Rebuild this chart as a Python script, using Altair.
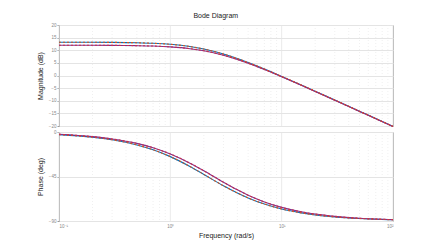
import altair as alt
import pandas as pd

freq = [0.1, 0.2, 0.3, 0.5, 0.7, 1, 1.5, 2, 3, 4, 5, 7, 10, 15, 20, 30, 50, 70, 100]
# System 1 (blue solid / orange dashed)
mag1 = [13.19, 13.16, 13.12, 12.97, 12.76, 12.35, 11.48, 10.49, 8.51, 6.71, 5.13, 2.56, -0.35, -3.76, -6.22, -9.72, -14.14, -17.06, -20.15]
phase1 = [-2.7, -5.3, -7.9, -13.1, -18.0, -24.9, -34.9, -42.9, -54.4, -61.7, -66.7, -72.9, -77.9, -81.8, -83.9, -85.9, -87.5, -88.2, -88.8]
# System 2 (purple solid / red dashed)
mag2 = [11.99, 11.97, 11.94, 11.82, 11.66, 11.33, 10.62, 9.78, 8.02, 6.36, 4.87, 2.38, -0.47, -3.85, -6.30, -9.79, -14.21, -17.12, -20.22]
phase2 = [-2.3, -4.7, -7.0, -11.5, -15.9, -22.2, -31.5, -39.2, -50.8, -58.5, -63.9, -70.7, -76.2, -80.7, -83.0, -85.3, -87.2, -88.0, -88.6]

series = ["s1", "s1b", "s2", "s2b"]
colors = ["#0072BD", "#D95319", "#7E2F8E", "#C8304A"]

major_x = [0.1, 1, 10, 100]
minor_x = [0.2, 0.3, 0.4, 0.5, 0.6, 0.7, 0.8, 0.9,
           2, 3, 4, 5, 6, 7, 8, 9,
           20, 30, 40, 50, 60, 70, 80, 90]
mag_ticks = [-20, -15, -10, -5, 0, 5, 10, 15, 20]
phase_ticks = [-90, -45, 0]

rows = []
for f, m1, p1, m2, p2 in zip(freq, mag1, phase1, mag2, phase2):
    rows.append({"f": f, "s": "s1", "mag": m1, "ph": p1})
    rows.append({"f": f, "s": "s1b", "mag": m1, "ph": p1})
    rows.append({"f": f, "s": "s2", "mag": m2, "ph": p2})
    rows.append({"f": f, "s": "s2b", "mag": m2, "ph": p2})
df = pd.DataFrame(rows)
minor_df = pd.DataFrame({"f": minor_x})
major_df = pd.DataFrame({"f": major_x})

FONT = "Liberation Sans"
W = 334
xscale = alt.Scale(type="log", domain=[0.1, 100], nice=False)
cscale = alt.Scale(domain=series, range=colors)
label_expr = ("datum.value == 0.1 ? '10⁻¹' : datum.value == 1 ? '10⁰' : "
              "datum.value == 10 ? '10¹' : '10²'")


def panel(field, ydomain, yticks, ytitle, height, bottom):
    yscale = alt.Scale(domain=ydomain, nice=False)
    if bottom:
        xaxis = alt.Axis(values=major_x, labelExpr=label_expr, title="Frequency  (rad/s)",
                         grid=False, domain=False, ticks=False,
                         labelFontSize=4.5, labelFont=FONT, labelColor="#888", labelPadding=2,
                         titleFontSize=7, titleFont=FONT, titleFontWeight="normal",
                         titlePadding=4, titleColor="#222")
    else:
        xaxis = None
    minor = alt.Chart(minor_df).mark_rule(color="#e6e6e6", strokeDash=[1, 2], strokeWidth=0.6).encode(
        x=alt.X("f:Q", scale=xscale, axis=xaxis)
    )
    major = alt.Chart(major_df).mark_rule(color="#e4e4e4", strokeWidth=0.8).encode(
        x=alt.X("f:Q", scale=xscale, axis=xaxis)
    )
    base = alt.Chart(df).encode(
        x=alt.X("f:Q", scale=xscale, axis=xaxis),
        y=alt.Y(f"{field}:Q", scale=yscale,
                axis=alt.Axis(values=yticks, title=ytitle, grid=True, gridColor="#e4e4e4",
                              domain=False, tickSize=2, tickColor="#999",
                              labelFontSize=4.5, labelFont=FONT, labelColor="#888", labelPadding=1,
                              titleFontSize=7, titleFont=FONT, titleFontWeight="normal",
                              titlePadding=5, titleColor="#222")),
        color=alt.Color("s:N", scale=cscale, legend=None),
    )
    solid = base.transform_filter(alt.FieldOneOfPredicate(field="s", oneOf=["s1", "s2"])).mark_line(
        strokeWidth=1.1, interpolate="monotone")
    dashed = base.transform_filter(alt.FieldOneOfPredicate(field="s", oneOf=["s1b", "s2b"])).mark_line(
        strokeWidth=1.1, strokeDash=[2, 2], interpolate="monotone")
    return alt.layer(minor, major, solid, dashed).properties(width=W, height=height)


top = panel("mag", [-20, 20], mag_ticks, "Magnitude  (dB)", 101, False)
bot = panel("ph", [-90, 0], phase_ticks, "Phase  (deg)", 89, True)

chart = alt.vconcat(top, bot, spacing=-2).properties(
    title=alt.TitleParams("Bode Diagram", anchor="middle", fontSize=7, font=FONT,
                          fontWeight="normal", offset=3, color="#222"),
    padding={"left": 27, "top": 3, "right": 5, "bottom": 5},
    background="white",
).configure_view(stroke="#aaa", strokeWidth=1)

chart.save("out.html", embed_options={"renderer": "svg", "actions": False})
